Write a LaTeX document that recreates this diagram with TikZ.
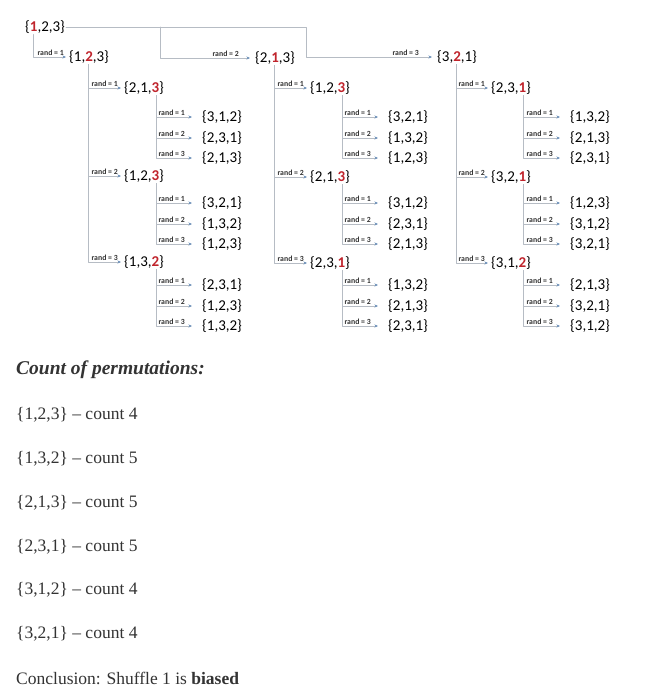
\documentclass[tikz,border=0pt]{standalone}
\usepackage{fontspec}
\setmainfont{Liberation Serif}
\newfontfamily\treefont{Carlito}
\usetikzlibrary{arrows.meta}
\definecolor{linecol}{RGB}{182,188,196}
\definecolor{tipcol}{RGB}{110,145,185}
\definecolor{pickcol}{RGB}{192,36,44}
\definecolor{textcol}{RGB}{51,51,51}
\newcommand{\pk}[1]{\textbf{\color{pickcol}#1}}
\def\fmt#1#2#3{\{#1,#2,#3\}}
\tikzset{
  perm/.style={anchor=west, inner sep=1pt, text=black, font=\treefont\fontsize{15}{17}\selectfont},
  conn/.style={linecol, line width=0.8pt, -{Stealth[length=3.5pt, width=3pt, color=tipcol]}},
  rlbl/.style={anchor=south east, inner sep=1pt, text=textcol, font=\treefont\bfseries\fontsize{7.8}{9}\selectfont},
  body/.style={anchor=west, inner sep=0pt, text=textcol, font=\fontsize{17.5}{20}\selectfont}
}
% three leaves under one node: parent, drop shift, leaf x, first y, perms
\newcommand{\leafset}[7]{%
  \foreach \k/\dy/\p in {1/0/#5, 2/21/#6, 3/41/#7}{
    \node[perm] (#1\k) at (#3,#4+\dy) {\expandafter\fmt\p};
    \draw[conn, shorten >=9pt] ([xshift=#2pt]#1.south west) |- (#1\k.west);
    \node[rlbl] (#1r\k) at ([xshift=-15pt]#1\k.west) {rand = \k};
  }
}

\begin{document}
\begin{tikzpicture}[x=1pt, y=-1pt, line cap=round, line join=round]
\useasboundingbox[fill=white] (0,0) rectangle (647,697);

% ------------------------------------------------------------------
% Root and first swap
% ------------------------------------------------------------------
\node[perm] (r) at (24,27) {\{\pk{1},2,3\}};
\coordinate (j2) at (160,27);
\coordinate (j3) at (306,27);

\node[perm] (a) at (68,57) {\{1,\pk{2},3\}};
\node[perm] (b) at (254,58) {\{2,\pk{1},3\}};
\node[perm] (c) at (436,57) {\{3,\pk{2},1\}};

\draw[conn, shorten >=2pt] ([xshift=9pt]r.south west) |- (a.west);
\draw[conn, shorten >=4pt] (r.east) -- (j3) |- (c.west);
\draw[conn, shorten >=4pt] (j2) |- (b.west);
\node[rlbl] (ra) at ([xshift=-3pt]a.west) {rand = 1};
\node[rlbl] (rb) at ([xshift=-14pt]b.west) {rand = 2};
\node[rlbl] (rc) at ([xshift=-16pt]c.west) {rand = 3};

% ------------------------------------------------------------------
% Second swap
% ------------------------------------------------------------------
\node[perm] (aa) at (123,88)  {\{2,1,\pk{3}\}};
\node[perm] (ab) at (123,176) {\{1,2,\pk{3}\}};
\node[perm] (ac) at (123,262) {\{1,3,\pk{2}\}};
\node[perm] (ba) at (309,88)  {\{1,2,\pk{3}\}};
\node[perm] (bb) at (309,177) {\{2,1,\pk{3}\}};
\node[perm] (bc) at (309,263) {\{2,3,\pk{1}\}};
\node[perm] (ca) at (490,88)  {\{2,3,\pk{1}\}};
\node[perm] (cb) at (490,177) {\{3,2,\pk{1}\}};
\node[perm] (cc) at (490,263) {\{3,1,\pk{2}\}};

\foreach \p in {a,b,c}{
  \foreach \q/\k in {a/1,b/2,c/3}{
    \draw[conn, shorten >=2pt] ([xshift=20pt]\p.south west) |- (\p\q.west);
    \node[rlbl] (r\p\q) at ([xshift=-4pt]\p\q.west) {rand = \k};
  }
}

% ------------------------------------------------------------------
% Third swap (leaves)
% ------------------------------------------------------------------
\leafset{aa}{33}{201}{117}{312}{231}{213}
\leafset{ab}{33}{201}{203}{321}{132}{123}
\leafset{ac}{33}{201}{285}{231}{123}{132}
\leafset{ba}{33}{387}{117}{321}{132}{123}
\leafset{bb}{33}{387}{203}{312}{231}{213}
\leafset{bc}{33}{387}{285}{132}{213}{231}
\leafset{ca}{33}{569}{117}{132}{213}{231}
\leafset{cb}{33}{569}{203}{123}{312}{321}
\leafset{cc}{33}{569}{285}{213}{321}{312}

% ------------------------------------------------------------------
% Counts
% ------------------------------------------------------------------
\node[body, font=\fontsize{19.5}{22}\selectfont\bfseries\itshape] (hd) at (16,370) {Count of permutations:};
\foreach \p/\n [count=\i] in {123/4, 132/5, 213/5, 231/5, 312/4, 321/4}
  \node[body] (cnt\i) at (16,{415+43.8*(\i-1)}) {\expandafter\fmt\p{} \textendash{} count \n};
\node[body] (concl) at (16,678) {Conclusion: Shuffle 1 is \textbf{biased}};

\end{tikzpicture}
\end{document}
